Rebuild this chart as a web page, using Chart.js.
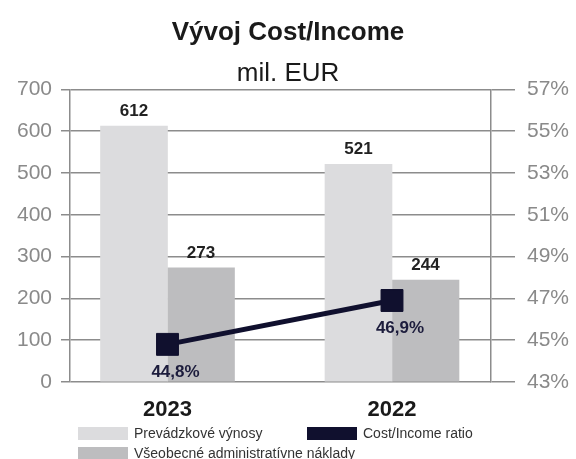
<!DOCTYPE html>
<html lang="sk">
<head>
<meta charset="UTF-8">
<title>Vývoj Cost/Income</title>
<script src="https://cdn.jsdelivr.net/npm/chart.js@4.4.1/dist/chart.umd.min.js"></script>
<style>
    html, body { margin: 0; padding: 0; background: #ffffff; overflow: hidden; }
    #wrap { position: relative; width: 576px; height: 459px; }
</style>
</head>
<body>
<div id="wrap"><canvas id="costChart"></canvas></div>

<script>
    // data
    const years = ['2023', '2022'];
    const revenue = [612, 521];          // Prevádzkové výnosy, mil. EUR
    const adminCosts = [273, 244];       // Všeobecné administratívne náklady
    const costIncome = [44.8, 46.9];     // Cost/Income ratio, %

    const eurMin = 0, eurMax = 700, eurStep = 100;
    const pctMin = 43, pctMax = 57, pctStep = 2;

    const FONT = "'Liberation Sans', Arial, Helvetica, sans-serif";
    const gridGrey = '#8c8c8c';
    const tickGrey = '#8a8a8a';
    const navy = '#10102e';

    const toPoints = arr => arr.map((v, i) => ({ x: i, y: v }));

    // value labels above bars / below line points
    const valueLabels = {
        id: 'valueLabels',
        afterDatasetsDraw(chart) {
            const ctx = chart.ctx;
            ctx.save();
            ctx.textAlign = 'center';
            ctx.textBaseline = 'middle';
            chart.data.datasets.forEach((ds, di) => {
                const meta = chart.getDatasetMeta(di);
                meta.data.forEach((el, i) => {
                    const v = ds.data[i].y;
                    ctx.font = 'bold 17px ' + FONT;
                    if (ds.type === 'line') {
                        ctx.fillStyle = '#1c1c3c';
                        ctx.fillText(v.toFixed(1).replace('.', ',') + '%', el.x + 8, el.y + 28);
                    } else {
                        ctx.fillStyle = '#222222';
                        ctx.fillText(String(v), el.x, el.y - 15);
                    }
                });
            });
            ctx.restore();
        }
    };

    // two-column legend as in the original layout
    const gridLegend = {
        id: 'gridLegend',
        afterDraw(chart) {
            const ctx = chart.ctx;
            const slots = [
                { ds: 0, x: 78, y: 427 },
                { ds: 1, x: 307, y: 427 },
                { ds: 2, x: 78, y: 447 }
            ];
            ctx.save();
            ctx.font = '14px ' + FONT;
            ctx.textBaseline = 'middle';
            ctx.textAlign = 'left';
            slots.forEach(s => {
                const ds = chart.data.datasets[s.ds];
                ctx.fillStyle = ds.legendColor;
                ctx.fillRect(s.x, s.y, 50, 13);
                ctx.fillStyle = '#333333';
                ctx.fillText(ds.label, s.x + 56, s.y + 7);
            });
            ctx.restore();
        }
    };

    new Chart(document.getElementById('costChart'), {
        type: 'bar',
        data: {
            datasets: [
                {
                    type: 'bar',
                    label: 'Prevádzkové výnosy',
                    data: toPoints(revenue),
                    backgroundColor: '#dcdcde',
                    legendColor: '#dcdcde',
                    barThickness: 67,
                    yAxisID: 'y',
                    order: 1
                },
                {
                    type: 'line',
                    label: 'Cost/Income ratio',
                    data: toPoints(costIncome),
                    borderColor: navy,
                    backgroundColor: navy,
                    legendColor: navy,
                    borderWidth: 5,
                    pointStyle: 'rect',
                    pointRadius: 15.5,
                    pointBorderWidth: 1,
                    pointBackgroundColor: navy,
                    pointBorderColor: navy,
                    yAxisID: 'y1',
                    order: 0
                },
                {
                    type: 'bar',
                    label: 'Všeobecné administratívne náklady',
                    data: toPoints(adminCosts),
                    backgroundColor: '#bdbdbf',
                    legendColor: '#bdbdbf',
                    barThickness: 67,
                    yAxisID: 'y',
                    order: 1
                }
            ]
        },
        options: {
            responsive: true,
            maintainAspectRatio: false,
            animation: false,
            layout: { padding: 0 },
            plugins: {
                legend: { display: false },
                tooltip: { enabled: false },
                title: {
                    display: true,
                    text: 'Vývoj Cost/Income',
                    color: '#1a1a1a',
                    font: { family: FONT, size: 26, weight: 'bold', lineHeight: 1.2 },
                    padding: { top: 17, bottom: 0 }
                },
                subtitle: {
                    display: true,
                    text: 'mil. EUR',
                    color: '#1a1a1a',
                    font: { family: FONT, size: 26, weight: 'normal', lineHeight: 1.2 },
                    padding: { top: 10, bottom: 0 }
                }
            },
            scales: {
                x: {
                    type: 'linear',
                    offset: false,
                    min: -0.4343,
                    max: 1.441,
                    grid: { display: false, offset: false },
                    border: { display: false },
                    afterBuildTicks: s => { s.ticks = years.map((_, i) => ({ value: i })); },
                    afterFit: s => { s.height = 77; },
                    ticks: {
                        padding: 7,
                        color: '#1a1a1a',
                        font: { family: FONT, size: 22, weight: 'bold' },
                        callback: v => years[v]
                    }
                },
                y: {
                    position: 'left',
                    min: eurMin,
                    max: eurMax,
                    afterFit: s => { s.width = 70; },
                    grid: { color: gridGrey, lineWidth: 1.5, tickLength: 9 },
                    border: { color: gridGrey, width: 1.5 },
                    ticks: {
                        stepSize: eurStep,
                        padding: 9,
                        color: tickGrey,
                        font: { family: FONT, size: 21 }
                    }
                },
                y1: {
                    position: 'right',
                    min: pctMin,
                    max: pctMax,
                    afterFit: s => { s.width = 85; },
                    grid: { drawOnChartArea: false, color: gridGrey, lineWidth: 1.5, tickLength: 24 },
                    border: { color: gridGrey, width: 1.5 },
                    ticks: {
                        stepSize: pctStep,
                        padding: 12,
                        color: tickGrey,
                        font: { family: FONT, size: 21 },
                        callback: v => v + '%'
                    }
                }
            }
        },
        plugins: [valueLabels, gridLegend]
    });
</script>
</body>
</html>
